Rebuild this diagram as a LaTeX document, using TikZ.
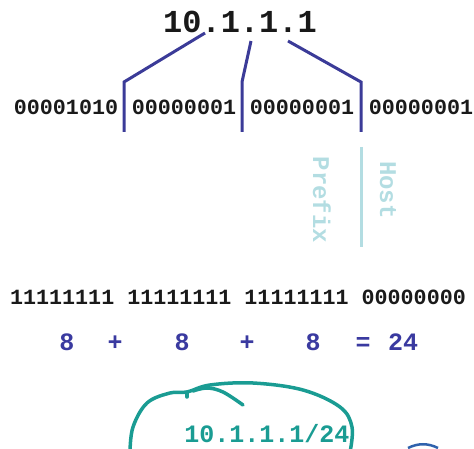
\documentclass[tikz,border=0pt]{standalone}
\usepackage{fontspec}
\setmonofont{Liberation Mono}
\definecolor{lineblue}{HTML}{3B3B98}
\definecolor{sumblue}{HTML}{3A3AA0}
\definecolor{cyanl}{HTML}{B3DDE2}
\definecolor{tealc}{HTML}{1A9C93}
\definecolor{bintext}{HTML}{1A1A1A}
\begin{document}
\begin{tikzpicture}[x=1pt,y=-1pt,
  ip/.style={font=\ttfamily\bfseries\fontsize{32}{32}\selectfont, text=black!90, inner sep=0pt, anchor=base},
  bin/.style={font=\ttfamily\bfseries\fontsize{21.7}{22}\selectfont, text=bintext, inner sep=0pt, anchor=base},
  sumtxt/.style={font=\ttfamily\bfseries\fontsize{25}{25}\selectfont, text=sumblue, inner sep=0pt, anchor=base},
  lbl/.style={font=\ttfamily\bfseries\fontsize{24}{24}\selectfont, text=cyanl, rotate=-90, inner sep=0pt},
  conn/.style={draw=lineblue, line width=3pt},
  loopline/.style={draw=tealc, line width=3.5pt, line cap=round, line join=round}]
\useasboundingbox (0,0) rectangle (474,449);

% top address
\node[ip] (ip) at (240,33) {10.1.1.1};

% byte row
\node[bin] (b1) at (66,115) {00001010};
\node[bin] (b2) at (184,115) {00000001};
\node[bin] (b3) at (302,115) {00000001};
\node[bin] (b4) at (421,115) {00000001};

% connector points
\coordinate (d1) at (205,33);
\coordinate (d2) at (251,41);
\coordinate (d3) at (288,41);
\coordinate (k1) at (124,82);
\coordinate (k2) at (242,82);
\coordinate (k3) at (361,82);
\coordinate (e1) at (124,132);
\coordinate (e2) at (242,132);
\coordinate (e3) at (361,132);
\draw[conn] (d1) -- (k1) -- (e1);
\draw[conn] (d2) -- (k2) -- (e2);
\draw[conn] (d3) -- (k3) -- (e3);

% prefix / host divider
\coordinate (s1) at (361,147);
\coordinate (s2) at (361,247);
\draw[draw=cyanl, line width=3pt] (s1) -- (s2);
\node[lbl] (prefix) at (322,200) {Prefix};
\node[lbl] (host) at (388,190) {Host};

% mask row
\node[bin] (mask) at (238,305) {11111111 11111111 11111111 00000000};

% sum row
\node[sumtxt] (n1) at (67,350) {8};
\node[sumtxt] (p1) at (115,350) {+};
\node[sumtxt] (n2) at (182,350) {8};
\node[sumtxt] (p2) at (247,350) {+};
\node[sumtxt] (n3) at (313,350) {8};
\node[sumtxt] (eq) at (363,350) {=};
\node[sumtxt] (tot) at (403,350) {24};

% CIDR with hand-drawn loop
\node[font=\ttfamily\bfseries\fontsize{25}{25}\selectfont, text=tealc, inner sep=0pt, anchor=base] (cidr) at (267,442) {10.1.1.1/24};
\draw[loopline] plot[smooth, tension=0.6] coordinates {(130,452) (133,427) (147,403) (170,393) (187,392) (210,385) (253,383) (303,390) (340,407) (352,427) (350,452)};
\draw[loopline] plot[smooth, tension=0.6] coordinates {(243,405) (223,392) (207,388) (193,391)};
\draw[loopline] (187,392) -- (187,397);

% partial icon bottom right
\draw[draw=lineblue!80!cyan, line width=2.5pt] (408,448) .. controls (418,443) and (428,443) .. (438,448);
\end{tikzpicture}
\end{document}
